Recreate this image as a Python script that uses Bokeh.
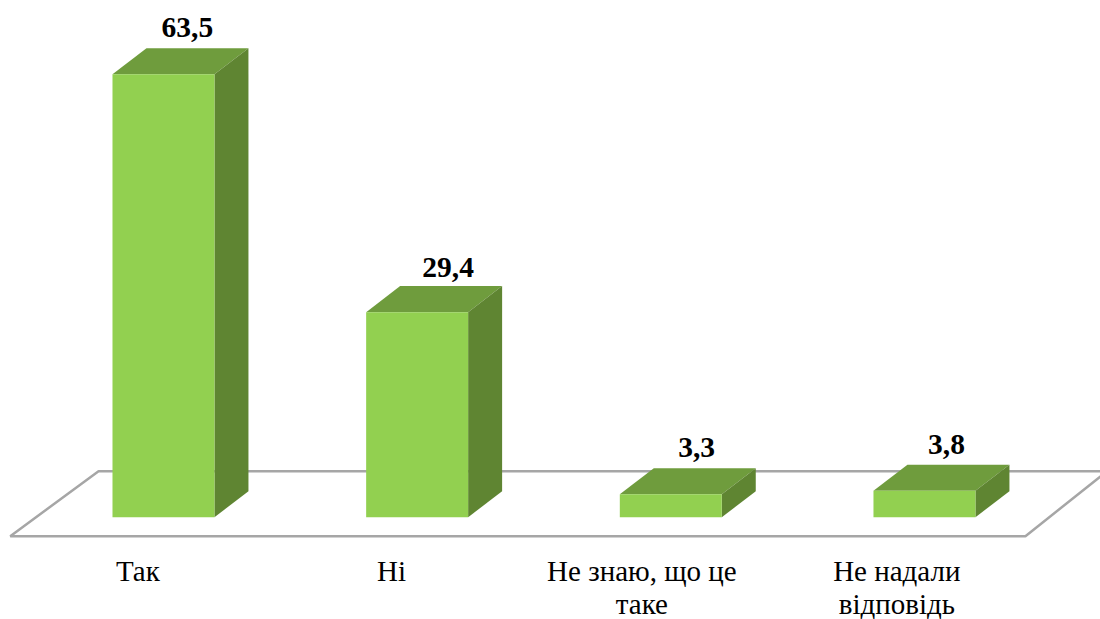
from bokeh.plotting import figure
from bokeh.models import ColumnDataSource, Range1d
from bokeh.core.properties import value
from bokeh.embed import file_html
from bokeh.resources import INLINE

categories = ["Так", "Ні", "Не знаю, що це\nтаке", "Не надали\nвідповідь"]
values = [63.5, 29.4, 3.3, 3.8]
value_labels = ["63,5", "29,4", "3,3", "3,8"]

FRONT, TOP, SIDE = "#92D050", "#6F9C3D", "#5F8532"
BAR_HALF = 0.201
DX, DY = 0.134, 3.73
LABEL_DX = [0.094, 0.122, 0.102, 0.087]
LABEL_DY = [2.9, 2.6, 2.9, 2.9]
CAT_DX = [-0.101, -0.101, -0.114, -0.109]

xs = list(range(len(values)))
fig_w, fig_h = 1100, 619
p = figure(width=fig_w, height=fig_h, output_backend="svg", toolbar_location=None,
           x_range=Range1d(-0.6425, 3.694), y_range=Range1d(-14.66, 74.07),
           min_border=0, outline_line_color=None, x_axis_type=None, y_axis_type=None)
p.grid.visible = False

# floor
p.patch([-0.604, -0.256, 3.72, 3.398], [-2.72, 6.6, 6.6, -2.72],
        fill_color="white", line_color="#A6A6A6", line_width=2.5)

left = [x - BAR_HALF for x in xs]
right = [x + BAR_HALF for x in xs]
top_xs = [[l, l + DX, r + DX, r] for l, r in zip(left, right)]
top_ys = [[v, v + DY, v + DY, v] for v in values]
side_xs = [[r, r + DX, r + DX, r] for r in right]
side_ys = [[0, DY, v + DY, v] for v in values]

p.patches(top_xs, top_ys, fill_color=TOP, line_color=None)
p.patches(side_xs, side_ys, fill_color=SIDE, line_color=None)
p.quad(left=left, right=right, bottom=0, top=values, fill_color=FRONT, line_color=None)

src = ColumnDataSource(dict(x=[x + d for x, d in zip(xs, LABEL_DX)],
                            y=[v + DY + d for v, d in zip(values, LABEL_DY)], t=value_labels))
p.text("x", "y", "t", source=src, text_font=value("Liberation Serif"), text_font_style="bold",
       text_font_size="29.5px", text_color="black", text_align="center", text_baseline="alphabetic")

lx, ly, lt = [], [], []
for x, d, cat in zip(xs, CAT_DX, categories):
    for i, line in enumerate(cat.split("\n")):
        lx.append(x + d)
        ly.append(-7.7 - 4.75 * i)
        lt.append(line)
src2 = ColumnDataSource(dict(x=lx, y=ly, t=lt))
p.text("x", "y", "t", source=src2, text_font=value("Liberation Serif"),
       text_font_size="29px", text_color="black", text_align="center", text_baseline="alphabetic")

open("out.html", "w").write(file_html(p, INLINE))
